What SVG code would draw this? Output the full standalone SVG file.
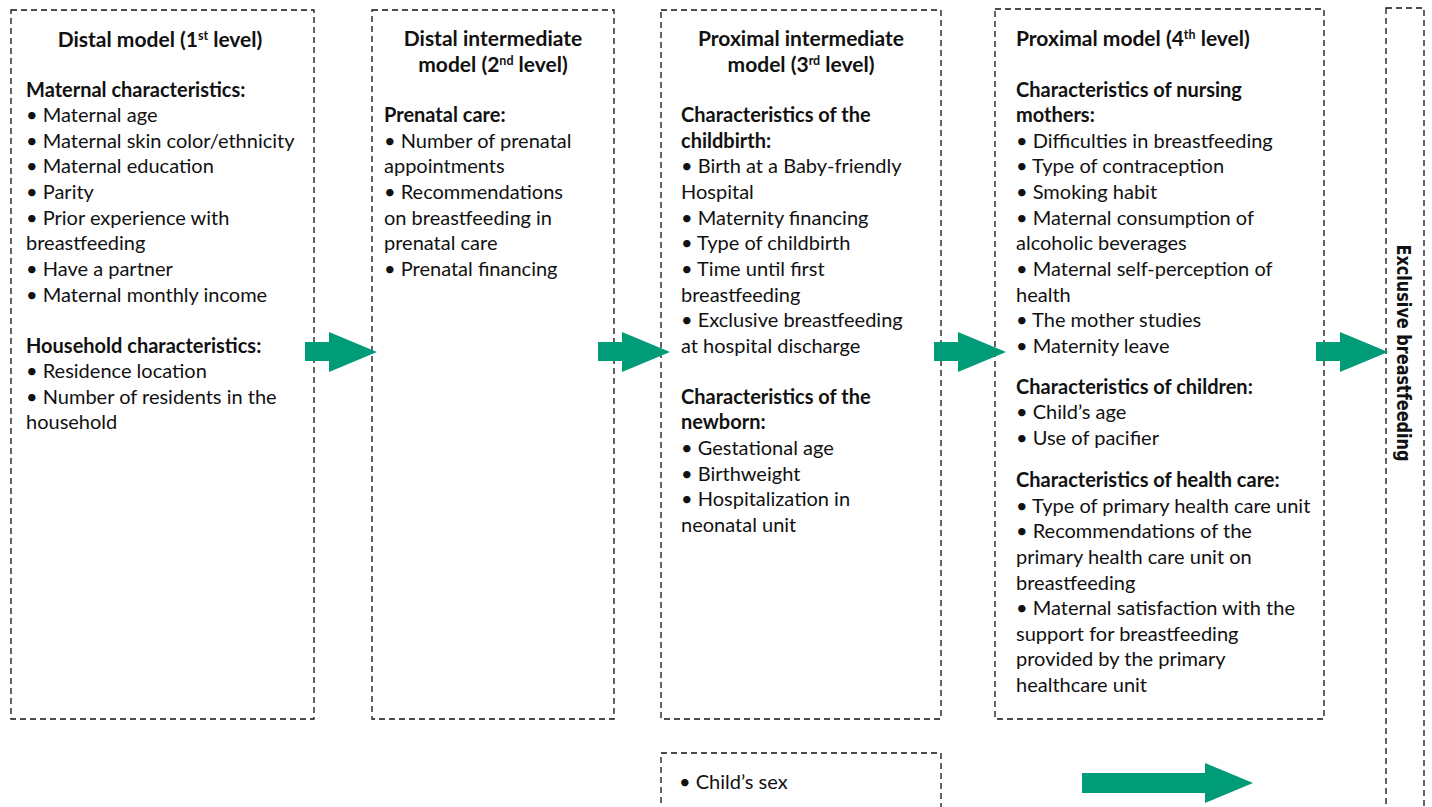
<svg xmlns="http://www.w3.org/2000/svg" width="1432" height="807" viewBox="0 0 1432 807">
<style>
.box{fill:#fff;stroke:#111;stroke-width:1.3;stroke-dasharray:6 4}
text{font-family:Lato,"Liberation Sans",sans-serif;font-size:20px;fill:#111}
.b{font-weight:bold}
.h{font-weight:bold;font-size:21px}
.c{text-anchor:middle}
.sup{font-size:12.5px}
.arr{fill:#009B77}
.v{font-family:"Liberation Sans Narrow","DejaVu Sans Condensed","Liberation Sans",sans-serif;font-weight:bold;font-size:20px}
</style>
<rect width="1432" height="807" fill="#fff"/>
<g id="box1">
<rect class="box" x="11" y="10" width="303" height="709"/>
<text class="h c" x="160" y="47">Distal model (1<tspan class="sup" dy="-7">st</tspan><tspan dy="7"> level)</tspan></text>
<text class="b" x="26" y="97">Maternal characteristics:</text>
<text x="26" y="122">• Maternal age</text>
<text x="26" y="148">• Maternal skin color/ethnicity</text>
<text x="26" y="173">• Maternal education</text>
<text x="26" y="199">• Parity</text>
<text x="26" y="225">• Prior experience with</text>
<text x="26" y="250">breastfeeding</text>
<text x="26" y="276">• Have a partner</text>
<text x="26" y="302">• Maternal monthly income</text>
<text class="b" x="26" y="353">Household characteristics:</text>
<text x="26" y="378">• Residence location</text>
<text x="26" y="404">• Number of residents in the</text>
<text x="26" y="429">household</text>
</g>
<g id="box2">
<rect class="box" x="372" y="10" width="242" height="709"/>
<text class="h c" x="493" y="46">Distal intermediate</text>
<text class="h c" x="493" y="72">model (2<tspan class="sup" dy="-7">nd</tspan><tspan dy="7"> level)</tspan></text>
<text class="b" x="384" y="122">Prenatal care:</text>
<text x="384" y="148">• Number of prenatal</text>
<text x="384" y="173">appointments</text>
<text x="384" y="199">• Recommendations</text>
<text x="384" y="225">on breastfeeding in</text>
<text x="384" y="250">prenatal care</text>
<text x="384" y="276">• Prenatal financing</text>
</g>
<g id="box3">
<rect class="box" x="661" y="10" width="280" height="709"/>
<text class="h c" x="801" y="46">Proximal intermediate</text>
<text class="h c" x="801" y="72">model (3<tspan class="sup" dy="-7">rd</tspan><tspan dy="7"> level)</tspan></text>
<text class="b" x="681" y="122">Characteristics of the</text>
<text class="b" x="681" y="148">childbirth:</text>
<text x="681" y="173">• Birth at a Baby-friendly</text>
<text x="681" y="199">Hospital</text>
<text x="681" y="225">• Maternity financing</text>
<text x="681" y="250">• Type of childbirth</text>
<text x="681" y="276">• Time until first</text>
<text x="681" y="302">breastfeeding</text>
<text x="681" y="327">• Exclusive breastfeeding</text>
<text x="681" y="353">at hospital discharge</text>
<text class="b" x="681" y="404">Characteristics of the</text>
<text class="b" x="681" y="429">newborn:</text>
<text x="681" y="455">• Gestational age</text>
<text x="681" y="481">• Birthweight</text>
<text x="681" y="506">• Hospitalization in</text>
<text x="681" y="532">neonatal unit</text>
</g>
<g id="box4">
<rect class="box" x="995" y="9" width="329" height="710"/>
<text class="h" x="1016" y="46">Proximal model (4<tspan class="sup" dy="-7">th</tspan><tspan dy="7"> level)</tspan></text>
<text class="b" x="1016" y="97">Characteristics of nursing</text>
<text class="b" x="1016" y="122">mothers:</text>
<text x="1016" y="148">• Difficulties in breastfeeding</text>
<text x="1016" y="173">• Type of contraception</text>
<text x="1016" y="199">• Smoking habit</text>
<text x="1016" y="225">• Maternal consumption of</text>
<text x="1016" y="250">alcoholic beverages</text>
<text x="1016" y="276">• Maternal self-perception of</text>
<text x="1016" y="302">health</text>
<text x="1016" y="327">• The mother studies</text>
<text x="1016" y="353">• Maternity leave</text>
<text class="b" x="1016" y="394">Characteristics of children:</text>
<text x="1016" y="419">• Child’s age</text>
<text x="1016" y="445">• Use of pacifier</text>
<text class="b" x="1016" y="487">Characteristics of health care:</text>
<text x="1016" y="513">• Type of primary health care unit</text>
<text x="1016" y="538">• Recommendations of the</text>
<text x="1016" y="564">primary health care unit on</text>
<text x="1016" y="590">breastfeeding</text>
<text x="1016" y="615">• Maternal satisfaction with the</text>
<text x="1016" y="641">support for breastfeeding</text>
<text x="1016" y="666">provided by the primary</text>
<text x="1016" y="692">healthcare unit</text>
</g>
<g id="outcome">
<rect class="box" x="1386" y="8" width="38" height="820"/>
<text class="v c" transform="translate(1397,353) rotate(90)" textLength="217" lengthAdjust="spacingAndGlyphs">Exclusive breastfeeding</text>
</g>
<g id="box5">
<rect class="box" x="661" y="753" width="280" height="80"/>
<text x="679" y="789">• Child’s sex</text>
</g>
<g id="connectors">
<path class="arr" d="M305 342H329V332L377 352L329 372V361H305Z"/>
<path class="arr" d="M598 342H622V332L670 352L622 372V361H598Z"/>
<path class="arr" d="M934 342H958V332L1006 352L958 372V361H934Z"/>
<path class="arr" d="M1316 342H1340V332L1388 352L1340 372V361H1316Z"/>
<path class="arr" d="M1082 773H1205V763L1253 783L1205 803V793H1082Z"/>
</g>
</svg>
